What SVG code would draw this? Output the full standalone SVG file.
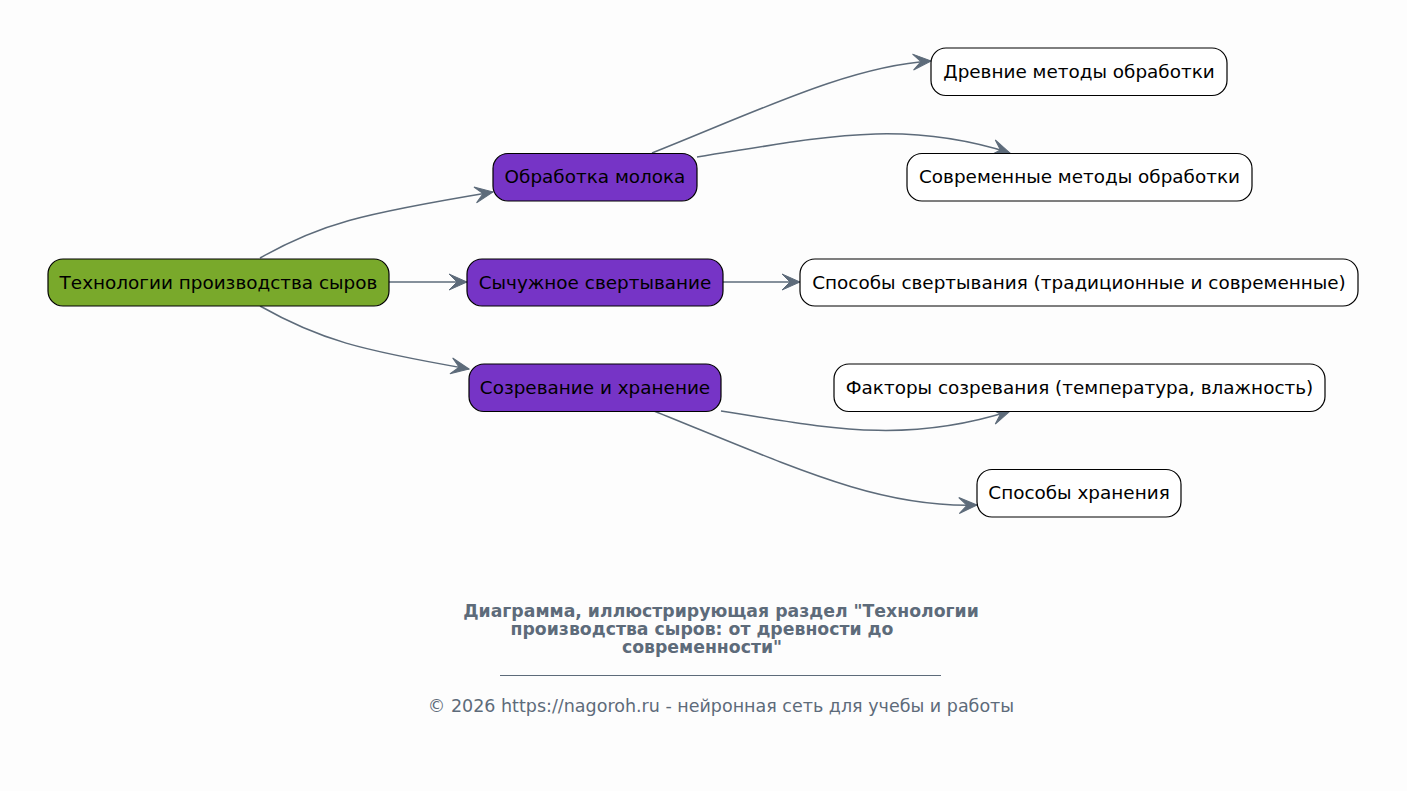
<svg xmlns="http://www.w3.org/2000/svg" width="1407" height="791" viewBox="0 0 1407 791">
<style>
.bg{fill:#FDFDFD}
.node rect{stroke:#000;stroke-width:1.2}
.root rect{fill:#79A92B}
.mid rect{fill:#7634C6}
.leaf rect{fill:#FFFFFF}
.node text{font-family:"DejaVu Sans",sans-serif;font-size:18.4px;fill:#000;text-anchor:middle;dominant-baseline:central}
.edge{fill:none;stroke:#5D6B7A;stroke-width:1.5;marker-end:url(#arr)}
.title{font-family:"DejaVu Sans",sans-serif;font-size:17.3px;font-weight:bold;fill:#5D6B7A;text-anchor:middle}
.foot{font-family:"DejaVu Sans",sans-serif;font-size:17.5px;fill:#5D6B7A;text-anchor:middle}
</style>
<defs>
<marker id="arr" markerUnits="userSpaceOnUse" markerWidth="22" markerHeight="22" refX="19" refY="9" orient="auto">
<path d="M19,9 L1,1 L9,9 L1,17 Z" fill="#5D6B7A" stroke="#5D6B7A" stroke-width="1" stroke-linejoin="miter"/>
</marker>
</defs>
<rect class="bg" x="0" y="0" width="1407" height="791"/>
<g id="connectors">
<path class="edge" d="M260,258 C320,224 360,214 493,192"/>
<path class="edge" d="M389,282 L467,282"/>
<path class="edge" d="M260,306 C320,340 360,350 469,369"/>
<path class="edge" d="M652,153 C760,110 850,66 931,61"/>
<path class="edge" d="M697,157 C820,138 900,118 1010,153"/>
<path class="edge" d="M723,282 L800,282"/>
<path class="edge" d="M721,411 C820,426 900,446 1010,411"/>
<path class="edge" d="M654,411 C800,470 880,508 977,505"/>
</g>
<g id="root" class="node root"><rect x="48" y="259" width="341" height="47" rx="15"/><text x="218.5" y="282.5">Технологии производства сыров</text></g>
<g id="n1" class="node mid"><rect x="493" y="153.5" width="204" height="47.5" rx="15"/><text x="595" y="176.5">Обработка молока</text></g>
<g id="n2" class="node mid"><rect x="467" y="259" width="256" height="47" rx="15"/><text x="595" y="282.5">Сычужное свертывание</text></g>
<g id="n3" class="node mid"><rect x="469" y="364" width="252" height="47.5" rx="15"/><text x="595" y="387.5">Созревание и хранение</text></g>
<g id="l1" class="node leaf"><rect x="931" y="48" width="296" height="47.5" rx="15"/><text x="1079" y="71.5">Древние методы обработки</text></g>
<g id="l2" class="node leaf"><rect x="907" y="153.5" width="345" height="47.5" rx="15"/><text x="1079.5" y="176.5">Современные методы обработки</text></g>
<g id="l3" class="node leaf"><rect x="800" y="259" width="558" height="47" rx="15"/><text x="1079" y="282.5">Способы свертывания (традиционные и современные)</text></g>
<g id="l4" class="node leaf"><rect x="834" y="364" width="491" height="47.5" rx="15"/><text x="1079.5" y="387.5">Факторы созревания (температура, влажность)</text></g>
<g id="l5" class="node leaf"><rect x="977" y="469.5" width="204" height="47.5" rx="15"/><text x="1079" y="492.5">Способы хранения</text></g>
<g id="caption">
<text class="title" x="721" y="617">Диаграмма, иллюстрирующая раздел "Технологии</text>
<text class="title" x="702" y="635">производства сыров: от древности до</text>
<text class="title" x="702" y="653">современности"</text>
<line x1="500" y1="675.5" x2="941" y2="675.5" stroke="#5D6B7A" stroke-width="1"/>
<text class="foot" x="721" y="712">© 2026 https://nagoroh.ru - нейронная сеть для учебы и работы</text>
</g>
</svg>
